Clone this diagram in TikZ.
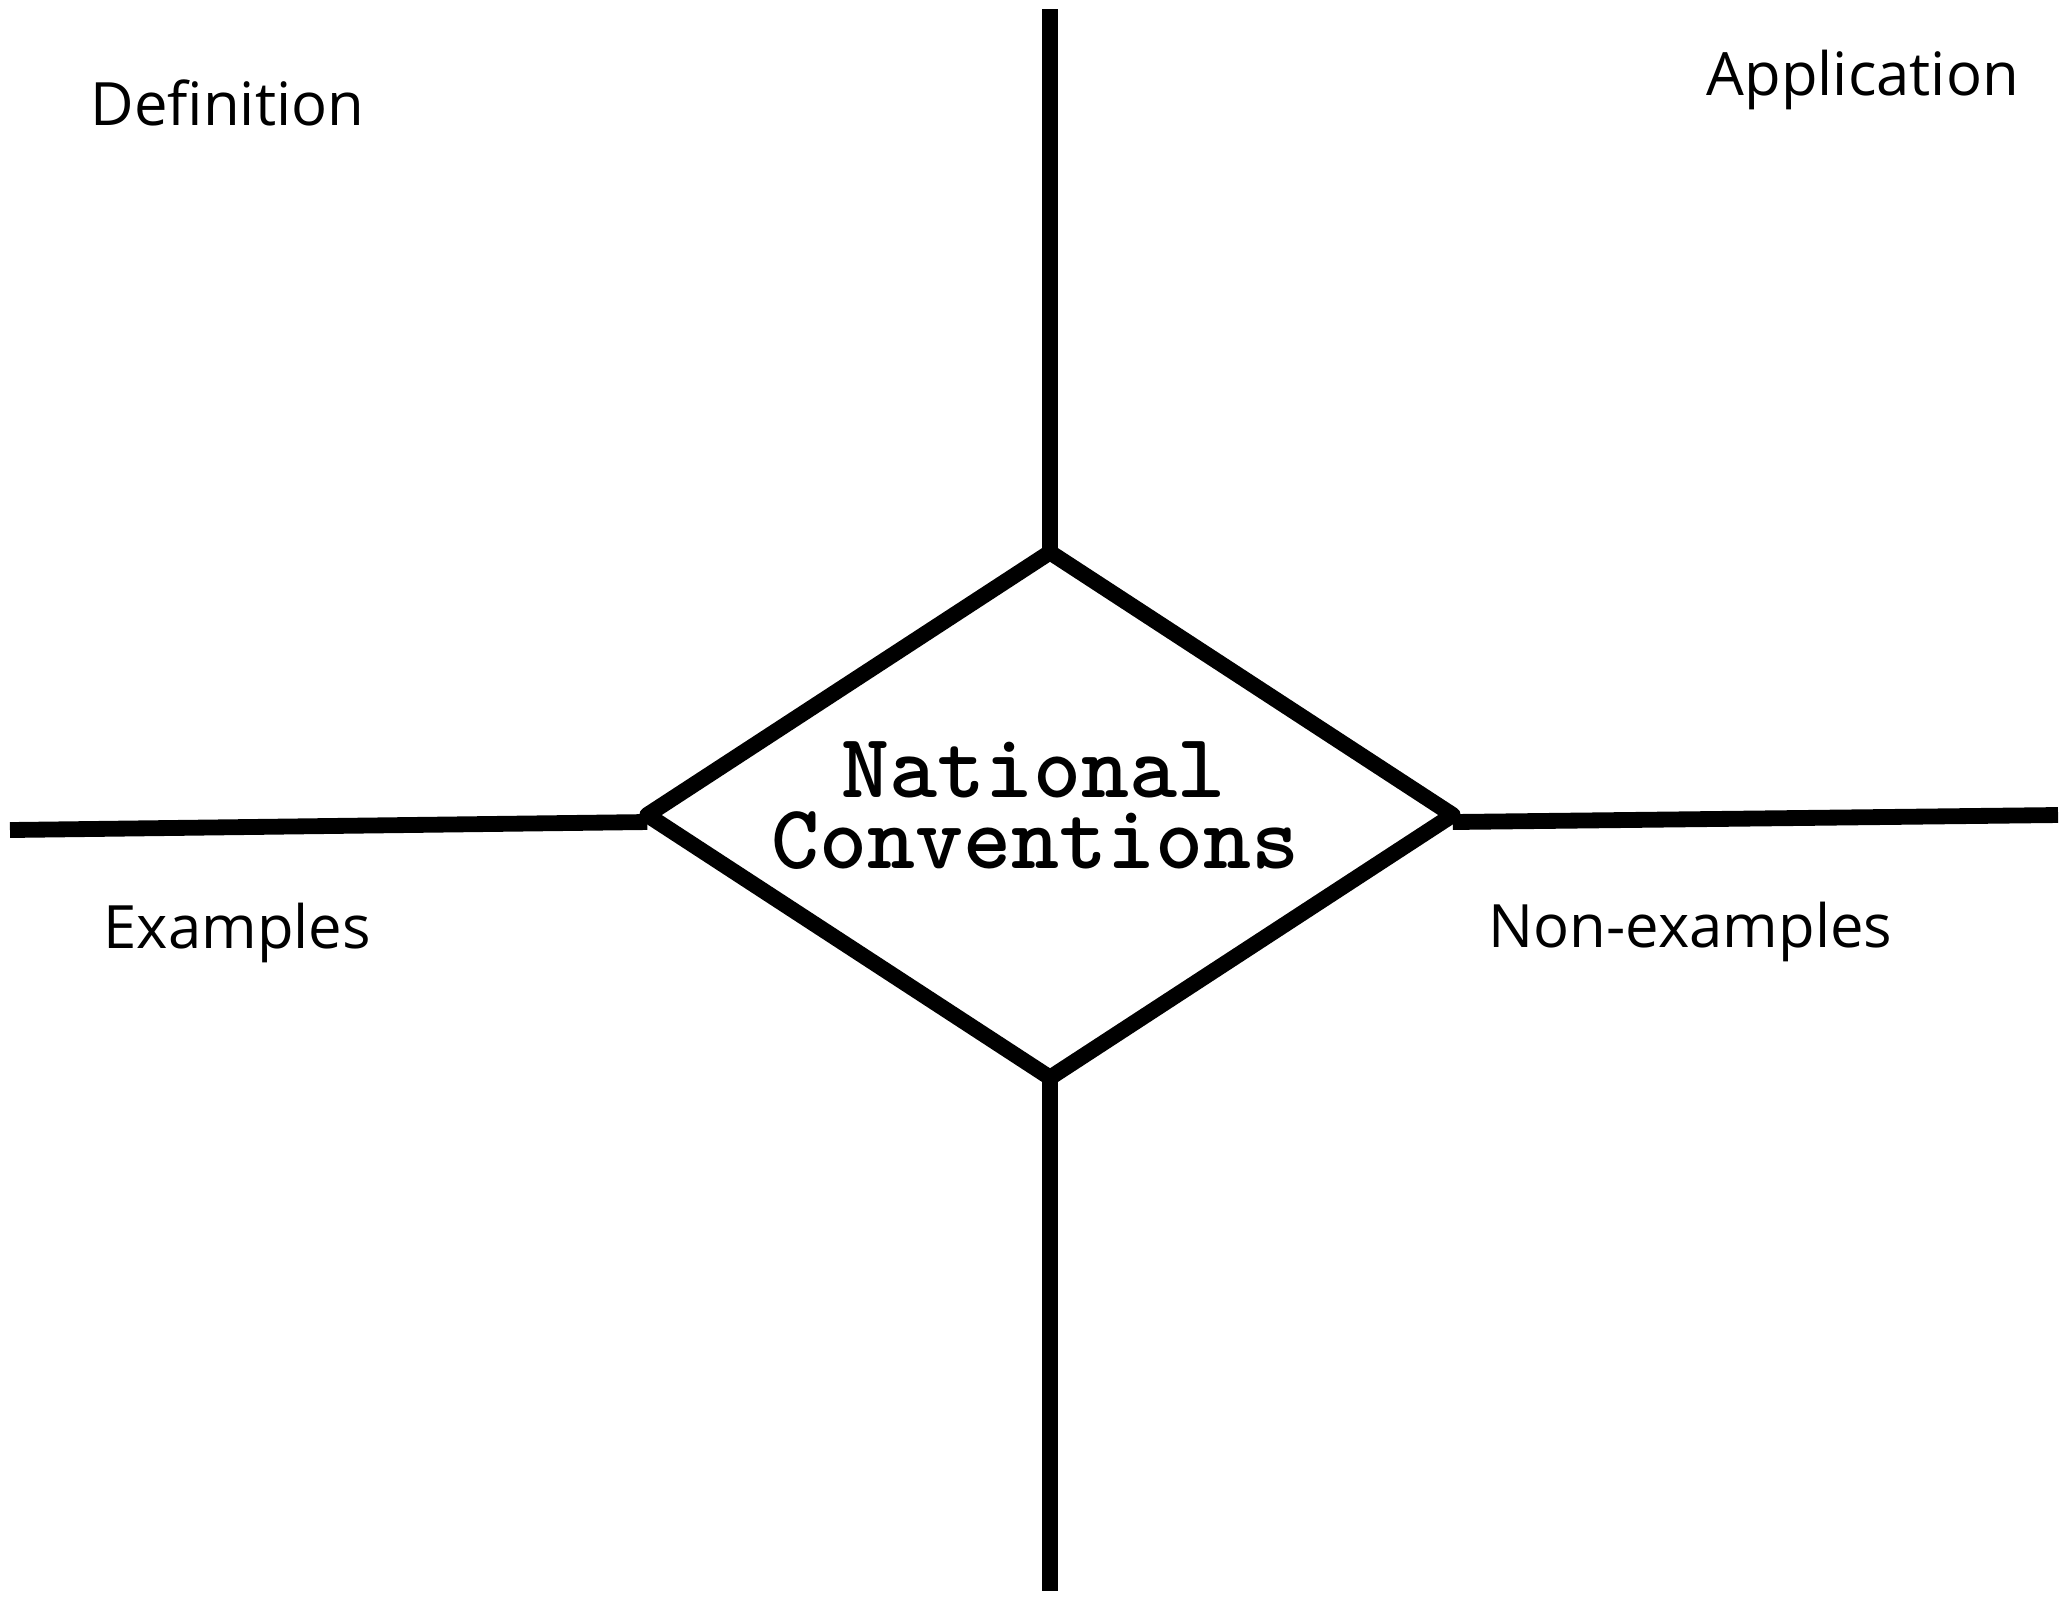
\documentclass[tikz,border=0pt]{standalone}
\usepackage{fontspec}
\setmainfont{Open Sans}
\usetikzlibrary{shapes.geometric}

\begin{document}
\begin{tikzpicture}[x=0.01cm, y=-0.01cm,
    bar/.style={line width=4.5pt, color=black},
    hub/.style={diamond, draw, line width=4.5pt, line join=round, minimum width=8.05cm, minimum height=5.25cm, inner sep=0pt, outer sep=0pt},
    corner/.style={font=\fontsize{17}{20}\selectfont, anchor=base west, inner sep=0pt},
    title/.style={font=\fontsize{26}{26}\selectfont\ttfamily\bfseries, anchor=base, inner sep=0pt}]
    \useasboundingbox (0,0) rectangle (2070,1599);

    \node[hub] (hub) at (1050,815) {};
    \node[title] (title1) at (1033,797) {National};
    \node[title] (title2) at (1035,868) {Conventions};

    \coordinate (top) at (1050,9);
    \coordinate (bottom) at (1050,1591);
    \coordinate (left) at (10,830);
    \coordinate (right) at (2058,815);

    \draw[bar] (hub.north) -- (top);
    \draw[bar] (hub.south) -- (bottom);
    \draw[bar] ([yshift=-0.07cm]hub.west) -- (left);
    \draw[bar] ([yshift=-0.07cm]hub.east) -- (right);

    \node[corner] (definition) at (90,125) {Definition};
    \node[corner] (application) at (1706,95) {Application};
    \node[corner] (examples) at (103,948) {Examples};
    \node[corner] (nonexamples) at (1488,947) {Non-examples};

\end{tikzpicture}
\end{document}
